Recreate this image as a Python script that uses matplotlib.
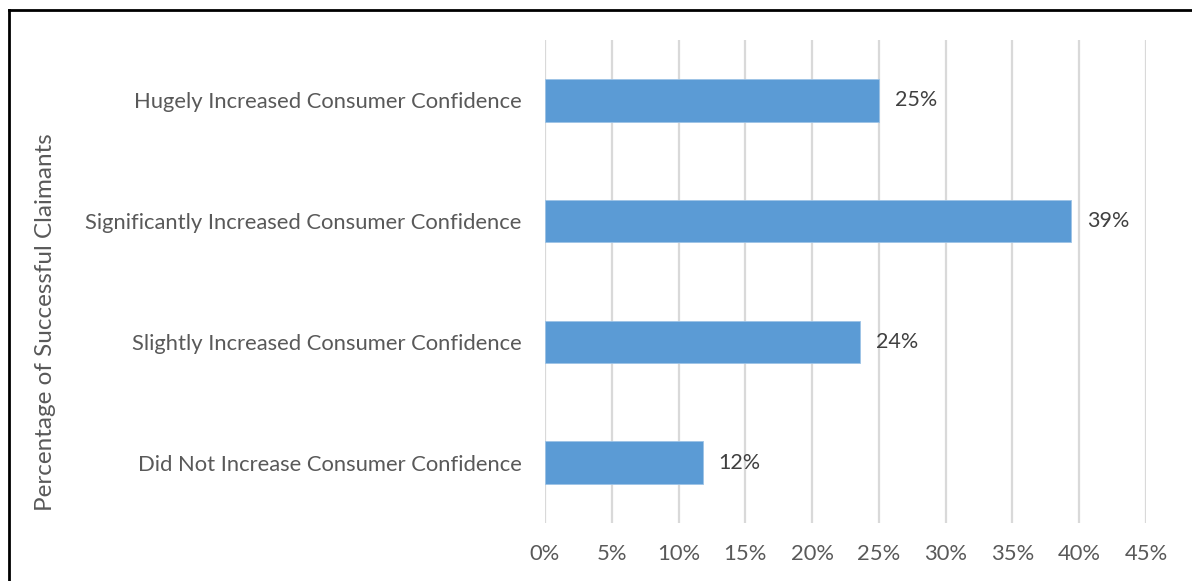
import matplotlib
matplotlib.use("Agg")
import matplotlib.pyplot as plt
from matplotlib.lines import Line2D

categories = [
    "Hugely Increased Consumer Confidence",
    "Significantly Increased Consumer Confidence",
    "Slightly Increased Consumer Confidence",
    "Did Not Increase Consumer Confidence",
]
values = [25.0, 39.4, 23.6, 11.8]
x_ticks = [0, 5, 10, 15, 20, 25, 30, 35, 40, 45]
y_title = "Percentage of Successful Claimants"

plt.rcParams["font.family"] = ["Lato", "DejaVu Sans"]

W, H = 1192, 581
fig = plt.figure(figsize=(W / 100, H / 100), dpi=100)
fig.patch.set_facecolor("white")

left, right, top, bottom = 545, 1146, 40, 523
ax = fig.add_axes([left / W, 1 - bottom / H, (right - left) / W, (bottom - top) / H])

pos = list(range(len(categories)))
ax.barh(pos, values, height=0.35, color="#5B9BD5", edgecolor="#9DC3E6",
        linewidth=0.6, zorder=3)
for p, v in zip(pos, values):
    ax.annotate(f"{v:.0f}%", xy=(v, p), xytext=(11.5, 0), textcoords="offset points",
                va="center", ha="left", fontsize=15.5, color="#404040")

ax.set_xlim(0, 45)
ax.set_ylim(len(categories) - 0.5, -0.5)
ax.set_xticks(x_ticks)
ax.set_xticklabels([f"{t}%" for t in x_ticks])
ax.set_yticks(pos)
ax.set_yticklabels(categories)
ax.tick_params(axis="both", length=0, labelsize=15.8, labelcolor="#595959")
ax.tick_params(axis="x", pad=15)
ax.tick_params(axis="y", pad=17)
ax.grid(axis="x", color="#D9D9D9", linewidth=1.6, zorder=0)
for s in ax.spines.values():
    s.set_visible(False)

fig.text(46 / W, 1 - 322 / H, y_title, rotation=90, va="center", ha="center",
         fontsize=17.5, color="#595959")

# outer frame (left and top edges)
fig.add_artist(Line2D([9 / W, 9 / W], [0, 1 - 10 / H], transform=fig.transFigure,
                      color="black", linewidth=2))
fig.add_artist(Line2D([9 / W, 1], [1 - 10 / H, 1 - 10 / H], transform=fig.transFigure,
                      color="black", linewidth=2))

fig.savefig("out.png", dpi=100, facecolor="white")
